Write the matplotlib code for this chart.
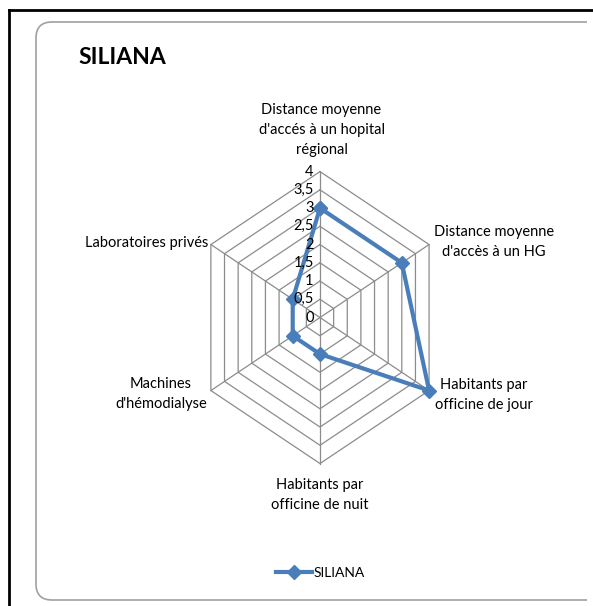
import matplotlib
matplotlib.use("Agg")
import matplotlib.pyplot as plt
import numpy as np
from matplotlib.patches import FancyBboxPatch
from matplotlib.lines import Line2D
from matplotlib.transforms import Bbox, IdentityTransform

plt.rcParams['font.family'] = ['Lato', 'DejaVu Sans']

# Data
categories = [
    "Distance moyenne\nd'accés à un hopital\nrégional",
    "Distance moyenne\nd'accès à un HG",
    "Habitants par\nofficine de jour",
    "Habitants par\nofficine de nuit",
    "Machines\nd'hémodialyse",
    "Laboratoires privés",
]
values = [3, 3, 4, 1, 1, 1]
series_name = "SILIANA"
rings = [0.5, 1, 1.5, 2, 2.5, 3, 3.5, 4]
tick_labels = ["0", "0,5", "1", "1,5", "2", "2,5", "3", "3,5", "4"]
rmax = 4

blue = '#4A7EBB'
grid_col = '#8C8C8C'

fig = plt.figure(figsize=(5.93, 6.06), dpi=100)

# Frame decorations
fig.add_artist(Line2D([9 / 593, 9 / 593], [0, 1 - 10 / 606], transform=fig.transFigure,
                      color='black', lw=2))
fig.add_artist(Line2D([9 / 593, 1], [1 - 10 / 606, 1 - 10 / 606], transform=fig.transFigure,
                      color='black', lw=2))
box = FancyBboxPatch((36, 6), 620, 578, boxstyle="round,pad=0,rounding_size=16",
                     transform=IdentityTransform(), facecolor='none',
                     edgecolor='#A0A0A0', lw=1.2)
box.set_clip_box(Bbox.from_extents(0, 0, 587, 606))
box.set_clip_on(True)
fig.add_artist(box)

fig.text(78 / 593, 1 - 57 / 606, "SILIANA", fontsize=16.5, fontweight='bold',
         va='center', ha='left', color='black')

# Radar axes (cartesian, stretched vertically like the original)
ax = fig.add_axes([0.3006, 0.205, 0.478, 0.542])
ax.set_xlim(-4.5, 4.5)
ax.set_ylim(-4.5, 4.5)
ax.axis('off')

n = len(categories)
theta = np.arange(n) * 2 * np.pi / n
sx, sy = np.sin(theta), np.cos(theta)
sx_c, sy_c = np.append(sx, sx[0]), np.append(sy, sy[0])

for r in rings:
    ax.plot(r * sx_c, r * sy_c, color=grid_col, lw=0.9, zorder=1)
for i in range(n):
    ax.plot([0, rmax * sx[i]], [0, rmax * sy[i]], color=grid_col, lw=0.9, zorder=1)

v = np.array(values, dtype=float)
ax.plot(np.append(v * sx, v[0] * sx[0]), np.append(v * sy, v[0] * sy[0]),
        color=blue, lw=3, marker='D', markersize=7.5, zorder=3, label=series_name)

# Value labels along the top spoke
for k, t in enumerate(tick_labels):
    ax.text(-0.2, k * 0.5, t, ha='right', va='center', fontsize=10.5, color='black')

# Category labels
label_pos = [(0.05, 5.14), (5.52, 2.07), (5.21, -2.12), (0.0, -4.86), (-5.05, -2.10), (-5.49, 2.04)]
for (lx, ly), lab in zip(label_pos, categories):
    ax.text(lx, ly, lab, ha='center', va='center', fontsize=10.5, linespacing=1.55,
            color='black')

fig.legend(loc='center', bbox_to_anchor=(0.54, 1 - 573 / 606), frameon=False,
           fontsize=10, handlelength=2.6, handletextpad=0.1)

fig.savefig('out.png', dpi=100)
